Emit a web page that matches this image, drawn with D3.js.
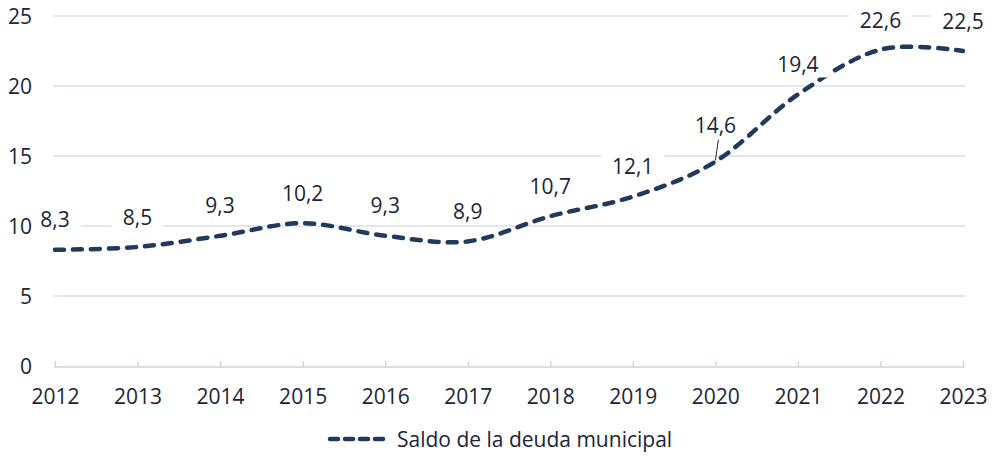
<!DOCTYPE html>
<html><head><meta charset="utf-8">
<script src="https://cdn.jsdelivr.net/npm/d3@7/dist/d3.min.js"></script>
<style>
body{margin:0;background:#fff;}
text{font-family:"Open Sans","Noto Sans",sans-serif;fill:#1b2536;}
</style></head>
<body><svg id="c" width="1000" height="456"></svg>
<script>
const years = ["2012","2013","2014","2015","2016","2017","2018","2019","2020","2021","2022","2023"];
const deuda = [8.3,8.5,9.3,10.2,9.3,8.9,10.7,12.1,14.6,19.4,22.6,22.5];
const yTicks = [0,5,10,15,20,25];
const seriesName = "Saldo de la deuda municipal";

const svg = d3.select("#c");
const x0 = 55, x1 = 963;
const FS = 21;
const x = d3.scalePoint().domain(years).range([x0, x1]);
const y = d3.scaleLinear().domain([0,25]).range([366, 16]);
const fmt = v => String(v).replace(".", ",");
const ink = "#1f3a5c";

// gridlines
svg.append("g").selectAll("line").data(yTicks.filter(d=>d>0)).join("line")
  .attr("x1", 53).attr("x2", 965).attr("y1", d=>y(d)).attr("y2", d=>y(d))
  .attr("stroke", "#d9dee8").attr("stroke-width", 1.3);

// x axis
const xa = svg.append("g").attr("transform", `translate(0,${y(0)+1})`)
  .call(d3.axisBottom(x).tickSizeInner(-6).tickSizeOuter(0).tickPadding(22));
xa.select(".domain").attr("stroke", "#cdd2dc").attr("stroke-width", 1.3).attr("d", `M${x0-1},0H${x1+1}`);
xa.selectAll(".tick line").attr("stroke", "#cdd2dc").attr("stroke-width", 1.3);
xa.selectAll(".tick text").attr("font-size", FS).attr("fill", "#1b2536")
  .style("font-family", "'Open Sans', 'Noto Sans', sans-serif");

// line
const line = d3.line().x((d,i)=>x(years[i])).y(d=>y(d)).curve(d3.curveCardinal.tension(0));
svg.append("path").datum(deuda).attr("d", line)
  .attr("fill", "none").attr("stroke", ink).attr("stroke-width", 4.5)
  .attr("stroke-dasharray", "9 9").attr("stroke-linecap", "round");

// labels
const lab = svg.append("g");
deuda.forEach((v,i)=>{
  const px = x(years[i]);
  const extra = years[i]==="2020" ? 6 : 0;
  let ly = y(v) - 30 - extra;
  if (ly < 20) ly = 20;
  const g = lab.append("g");
  const t = g.append("text").attr("x", px).attr("y", ly).attr("dy","0.36em")
    .attr("text-anchor","middle").attr("font-size",FS).text(fmt(v));
  const bb = t.node().getBBox();
  g.insert("rect","text").attr("x", bb.x-11).attr("y", ly-13).attr("width", bb.width+22).attr("height", 26).attr("fill","#fff");
  if (extra) {
    g.append("line").attr("x1", px+3).attr("y1", ly+14).attr("x2", px).attr("y2", y(v)-1)
      .attr("stroke", "#1b2536").attr("stroke-width", 1);
  }
});

// y labels (drawn above label boxes)
svg.append("g").selectAll("text").data(yTicks).join("text")
  .attr("x", 32).attr("y", d=>y(d)).attr("dy", "0.36em")
  .attr("text-anchor", "end").attr("font-size", FS).text(d=>d);

// legend
const lg = svg.append("g");
lg.append("line").attr("x1", 330).attr("x2", 388).attr("y1", 439).attr("y2", 439)
  .attr("stroke", ink).attr("stroke-width", 4.5).attr("stroke-dasharray", "8 7").attr("stroke-linecap","round");
lg.append("text").attr("x", 397).attr("y", 439).attr("dy","0.36em").attr("font-size",FS).text(seriesName);
</script></body></html>
